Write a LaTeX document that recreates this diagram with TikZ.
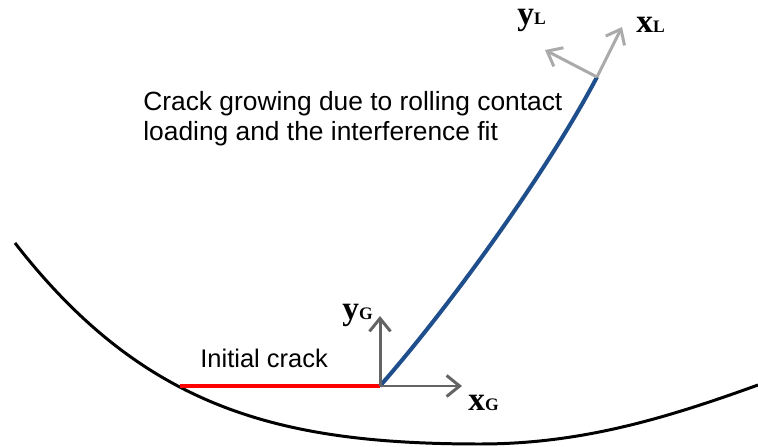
\documentclass[tikz,border=0pt]{standalone}
\usepackage{fontspec}
\setmainfont{Liberation Sans}
\newfontfamily\tnrfont{Liberation Serif}
\usetikzlibrary{arrows.meta}
\newcommand{\axlab}[2]{{\tnrfont\bfseries\fontsize{19}{19}\selectfont #1\fontsize{10}{10}\selectfont #2}}
\definecolor{crackblue}{RGB}{31,78,140}
\definecolor{axdark}{RGB}{100,100,100}
\definecolor{axlight}{RGB}{170,170,170}
\begin{document}
\begin{tikzpicture}[>={Straight Barb[length=2.6mm,width=4.2mm]},
  every node/.style={inner sep=0pt},
  gaxis/.style={->,draw=axdark,line width=1.7pt},
  laxis/.style={->,draw=axlight,line width=1.7pt},
  txt/.style={font=\fontsize{15}{17}\selectfont,align=left}]
\useasboundingbox (0,0) rectangle (15.16,8.92);
% wheel surface
\draw[line width=1.7pt] (0.3,4.06) .. controls (2.88,0.74) and (5.6,0.04) .. (9.6,0.04)
  .. controls (11.6,0.04) and (13.28,0.54) .. (15.16,1.22);
% crack tips and axis ends
\coordinate (S) at (3.6,1.2);
\coordinate (O) at (7.6,1.2);
\coordinate (T) at (11.94,7.38);
\coordinate (yg) at (7.6,2.6);
\coordinate (xg) at (9.24,1.2);
\coordinate (xl) at (12.44,8.38);
\coordinate (yl) at (10.9,7.92);
\draw[red,line width=2.8pt] (S) -- (O);
\draw[crackblue,line width=2.3pt] (O) .. controls (9.0,2.8) and (10.94,5.48) .. (T);
\draw[gaxis] (O) -- (yg);
\draw[gaxis] (O) -- (xg);
\draw[laxis] (T) -- (xl);
\draw[laxis] (T) -- (yl);
% labels
\node[anchor=base west] (lxg) at (9.36,0.72) {\axlab{x}{G}};
\node[anchor=base west] (lyg) at (6.84,2.52) {\axlab{y}{G}};
\node[anchor=base west] (lyl) at (10.34,8.42) {\axlab{y}{L}};
\node[anchor=base west] (lxl) at (12.72,8.26) {\axlab{x}{L}};
\node[txt,anchor=north west] (grow) at (2.86,7.1) {Crack growing due to rolling contact\\loading and the interference fit};
\node[txt,font=\fontsize{14.5}{17}\selectfont,anchor=base west] (init) at (4.0,1.58) {Initial crack};
\end{tikzpicture}
\end{document}
